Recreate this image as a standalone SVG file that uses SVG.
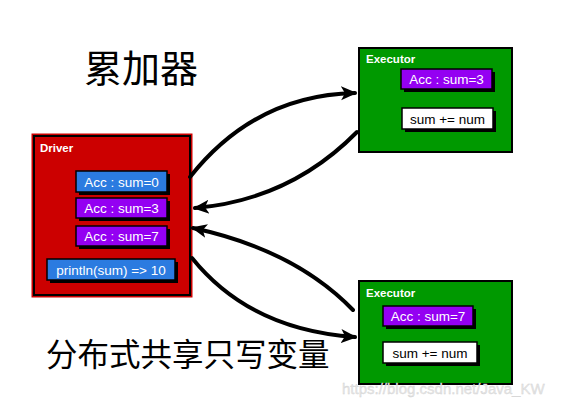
<svg xmlns="http://www.w3.org/2000/svg" width="563" height="407" viewBox="0 0 563 407">
<style>
.title{font-family:"Noto Sans CJK SC","Noto Sans",sans-serif;fill:#000}
.lbl{font-family:"Liberation Sans",Arial,sans-serif;font-size:11.5px;font-weight:bold;fill:#fff}
.box{font-family:"Liberation Sans",Arial,sans-serif;font-size:13.5px;fill:#fff;text-anchor:middle}
.dark{fill:#000}
.shadow{fill:#000}
.acc0{fill:#2b7be0;stroke:#000;stroke-width:1.5}
.accp{fill:#9400f2;stroke:#000;stroke-width:1.5}
.white{fill:#fff;stroke:#000;stroke-width:1.5}
.edge{fill:none;stroke:#000;stroke-width:4;stroke-linecap:round}
</style>
<defs>
<marker id="ah" markerUnits="userSpaceOnUse" viewBox="0 0 16 16" refX="14" refY="8" markerWidth="16" markerHeight="16" orient="auto">
<path d="M0,1 L16,8 L0,15 L4,8 Z" fill="#000"/>
</marker>
</defs>
<rect width="563" height="407" fill="#fff"/>
<text class="title" x="84" y="82" font-size="38">累加器</text>
<text class="title" x="46" y="366" font-size="31.5">分布式共享只写变量</text>

<g id="driver">
<rect x="32" y="134" width="160" height="163" fill="#cc0000" stroke="#cc0000" stroke-width="1"/>
<rect x="34" y="136" width="156" height="159" fill="#cc0000" stroke="#000" stroke-width="2"/>
<text class="lbl" x="40" y="152">Driver</text>
<rect class="shadow" x="79" y="174" width="91" height="21"/>
<rect class="acc0" x="76" y="171" width="91" height="21"/>
<text class="box" x="121.5" y="186.5">Acc : sum=0</text>
<rect class="shadow" x="79" y="201" width="91" height="20"/>
<rect class="accp" x="76" y="198" width="91" height="20"/>
<text class="box" x="121.5" y="213">Acc : sum=3</text>
<rect class="shadow" x="79" y="229" width="91" height="20"/>
<rect class="accp" x="76" y="226" width="91" height="20"/>
<text class="box" x="121.5" y="241">Acc : sum=7</text>
<rect class="shadow" x="50" y="262" width="128" height="21"/>
<rect class="acc0" x="47" y="259" width="128" height="21"/>
<text class="box" x="111" y="274.5">println(sum) =&gt; 10</text>
</g>

<g id="executor1">
<rect x="359" y="48" width="153" height="104" fill="#009900" stroke="#000" stroke-width="2"/>
<text class="lbl" x="366" y="63">Executor</text>
<rect class="shadow" x="404" y="72" width="91" height="20"/>
<rect class="accp" x="401" y="69" width="91" height="20"/>
<text class="box" x="446.5" y="84">Acc : sum=3</text>
<rect class="shadow" x="405" y="111" width="91" height="21"/>
<rect class="white" x="402" y="108" width="91" height="21"/>
<text class="box dark" x="447.5" y="123.5">sum += num</text>
</g>

<g id="executor2">
<rect x="359" y="281" width="153" height="103" fill="#009900" stroke="#000" stroke-width="2"/>
<text class="lbl" x="366" y="297">Executor</text>
<rect class="shadow" x="386" y="309" width="90" height="20"/>
<rect class="accp" x="383" y="306" width="90" height="20"/>
<text class="box" x="428" y="321">Acc : sum=7</text>
<rect class="shadow" x="386" y="345" width="94" height="21"/>
<rect class="white" x="383" y="342" width="94" height="21"/>
<text class="box dark" x="430" y="357.5">sum += num</text>
</g>

<g id="connectors">
<path class="edge" d="M190,177 Q255,95 355,93" marker-end="url(#ah)"/>
<path class="edge" d="M357,132 Q290,200 195,208" marker-end="url(#ah)"/>
<path class="edge" d="M353,310 Q295,250 193,228" marker-end="url(#ah)"/>
<path class="edge" d="M192,258 Q250,330 355,337" marker-end="url(#ah)"/>
</g>

<text x="342" y="394" font-family="Liberation Sans,Arial,sans-serif" font-size="15" fill="#e6e6e6" stroke="#d0d0d0" stroke-width="0.3">https://blog.csdn.net/Java_KW</text>
</svg>
